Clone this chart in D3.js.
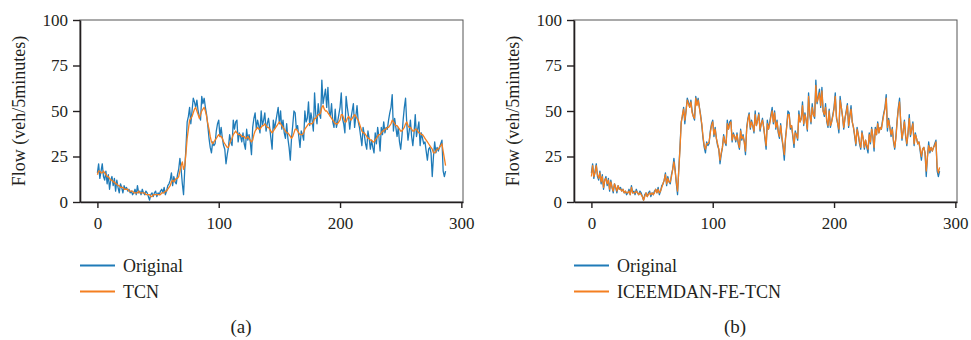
<!DOCTYPE html>
<html>
<head>
<meta charset="utf-8">
<script src="https://cdn.jsdelivr.net/npm/d3@7"></script>
<style>
  body { margin: 0; background: #fff; }
  svg { display: block; }
  text { font-family: "Liberation Serif", "DejaVu Serif", serif; fill: #231f20; }
</style>
</head>
<body>
<div id="chart"></div>
<script>
// flow observed, one value per 5 minutes (288 per day)
const original = [
  16, 21, 13, 17, 21, 14, 12, 17, 10, 15, 7, 12,
  14, 9, 13, 6, 12, 8, 5, 10, 8, 5, 9, 7,
  8, 6, 7, 5, 6, 4, 5, 7, 4, 9, 5, 6,
  4, 7, 5, 4, 6, 5, 3, 1, 4, 5, 3, 5,
  6, 3, 5, 4, 6, 7, 5, 8, 4, 6, 9, 10,
  12, 16, 9, 14, 11, 10, 15, 18, 24, 18, 10, 4,
  18, 30, 44, 47, 52, 43, 50, 57, 55, 52, 56, 50,
  47, 45, 58, 54, 57, 52, 48, 42, 35, 30, 27, 33,
  31, 32, 39, 43, 45, 36, 41, 35, 31, 29, 21, 26,
  30, 37, 33, 31, 45, 40, 44, 45, 33, 38, 36, 33,
  38, 32, 29, 40, 34, 37, 33, 26, 41, 46, 49, 40,
  45, 42, 38, 50, 42, 45, 49, 39, 43, 46, 41, 35,
  29, 45, 40, 44, 48, 52, 43, 50, 40, 45, 38, 35,
  43, 35, 30, 23, 35, 42, 50, 49, 40, 42, 36, 30,
  39, 37, 34, 50, 44, 46, 55, 42, 49, 45, 39, 60,
  48, 43, 54, 48, 46, 67, 54, 58, 62, 52, 63, 50,
  47, 54, 44, 41, 51, 41, 44, 48, 52, 60, 46, 43,
  38, 58, 52, 47, 40, 46, 50, 54, 41, 47, 53, 44,
  41, 36, 31, 41, 37, 32, 29, 39, 35, 29, 34, 30,
  27, 38, 32, 41, 36, 28, 41, 37, 44, 38, 41, 40,
  45, 49, 52, 59, 39, 46, 41, 36, 41, 33, 29, 36,
  45, 52, 57, 43, 34, 39, 45, 36, 31, 38, 48, 36,
  40, 44, 31, 38, 35, 32, 33, 28, 23, 29, 30, 27,
  14, 25, 33, 27, 30, 28, 30, 32, 34, 17, 14, 17
];

const tcn = [
  15, 17, 17, 16, 16, 17, 16, 15, 14, 14, 13, 12,
  12, 11, 11, 10, 10, 9, 9, 8, 8, 8, 7, 7,
  7, 7, 6, 6, 6, 6, 5, 5, 5, 5, 6, 5,
  5, 5, 5, 5, 4, 4, 4, 4, 3, 3, 4, 4,
  4, 4, 4, 4, 4, 5, 5, 5, 6, 6, 7, 8,
  9, 11, 12, 11, 12, 13, 13, 14, 17, 20, 22, 18,
  20, 27, 35, 40, 45, 46, 47, 49, 51, 52, 50, 48,
  46, 48, 50, 51, 52, 50, 47, 43, 40, 36, 33, 32,
  33, 34, 35, 36, 37, 36, 36, 35, 33, 32, 31, 30,
  30, 32, 34, 35, 37, 38, 39, 38, 37, 37, 37, 36,
  36, 36, 35, 35, 36, 35, 34, 33, 34, 37, 39, 40,
  41, 40, 40, 41, 42, 42, 43, 42, 41, 41, 40, 39,
  38, 39, 40, 41, 42, 43, 44, 43, 42, 41, 40, 39,
  38, 38, 37, 36, 35, 36, 38, 40, 40, 39, 38, 37,
  37, 37, 38, 40, 41, 42, 43, 43, 43, 43, 44, 46,
  46, 47, 48, 48, 49, 52, 53, 51, 50, 50, 49, 48,
  47, 46, 45, 44, 43, 43, 43, 44, 45, 48, 48, 46,
  44, 44, 46, 47, 46, 45, 46, 47, 48, 47, 46, 45,
  43, 41, 39, 38, 38, 37, 36, 35, 35, 34, 34, 33,
  33, 34, 35, 36, 37, 37, 38, 39, 39, 40, 40, 41,
  41, 42, 43, 45, 44, 43, 42, 42, 41, 40, 39, 39,
  40, 41, 43, 44, 42, 41, 41, 40, 39, 39, 40, 40,
  39, 38, 38, 37, 37, 36, 35, 34, 33, 32, 31, 30,
  29, 27, 27, 28, 29, 29, 30, 31, 32, 28, 24, 20
];

const iceemdan = [
  14, 20, 14, 16, 20, 15, 13, 16, 11, 14, 8, 12,
  13, 10, 12, 7, 11, 8, 6, 10, 8, 6, 9, 7,
  7, 6, 7, 5, 6, 5, 5, 6, 4, 8, 5, 5,
  5, 6, 5, 4, 5, 4, 3, 1, 3, 5, 3, 4,
  5, 4, 5, 4, 5, 7, 5, 7, 5, 6, 8, 10,
  12, 15, 10, 13, 11, 11, 14, 18, 22, 17, 11, 6,
  17, 29, 43, 48, 51, 45, 50, 56, 54, 52, 55, 49,
  47, 46, 57, 53, 56, 52, 47, 43, 36, 31, 29, 32,
  32, 33, 38, 42, 44, 37, 40, 35, 32, 29, 23, 27,
  30, 36, 33, 32, 43, 40, 43, 44, 34, 37, 36, 34,
  37, 33, 30, 39, 35, 36, 33, 28, 40, 45, 48, 41,
  44, 42, 39, 48, 42, 45, 48, 40, 43, 45, 41, 36,
  31, 43, 40, 43, 47, 50, 44, 49, 41, 44, 39, 36,
  42, 36, 31, 26, 35, 41, 48, 48, 41, 42, 37, 32,
  38, 37, 35, 48, 44, 46, 53, 43, 48, 45, 40, 58,
  48, 44, 52, 48, 47, 64, 55, 57, 60, 53, 61, 50,
  48, 52, 45, 42, 50, 42, 44, 47, 51, 58, 47, 43,
  40, 56, 52, 47, 41, 46, 49, 53, 42, 47, 51, 44,
  41, 37, 32, 40, 37, 33, 30, 38, 35, 30, 34, 31,
  29, 37, 33, 40, 36, 30, 40, 37, 43, 38, 41, 40,
  44, 48, 51, 57, 41, 45, 41, 37, 40, 34, 30, 35,
  44, 51, 55, 44, 35, 39, 44, 37, 32, 38, 46, 37,
  40, 43, 32, 37, 35, 32, 33, 29, 25, 29, 30, 27,
  17, 25, 31, 28, 30, 28, 30, 31, 33, 19, 16, 19
];

const yTicks = [0, 25, 50, 75, 100];
const xTicks = [0, 100, 200, 300];
const panels = [
  { left: 80, model: tcn, name: 'TCN', tag: '(a)' },
  { left: 574, model: iceemdan, name: 'ICEEMDAN-FE-TCN', tag: '(b)' }
];

const blue = '#1f7bb8';
const orange = '#f47f20';
const plotW = 383, plotTop = 20, plotBottom = 202;

const svg = d3.select('#chart').append('svg').attr('width', 971).attr('height', 340);

panels.forEach(p => {
  const x = d3.scaleLinear().domain([-14.35, 301.35]).range([p.left, p.left + plotW]);
  const y = d3.scaleLinear().domain([0, 100]).range([plotBottom, plotTop]);
  const g = svg.append('g');

  // frame (top / right)
  g.append('rect')
    .attr('x', p.left).attr('y', plotTop)
    .attr('width', plotW).attr('height', plotBottom - plotTop)
    .attr('fill', 'none').attr('stroke', '#555').attr('stroke-width', 1);

  const line = d3.line().x((d, i) => x(i)).y(d => y(d));
  g.append('path').datum(original)
    .attr('d', line).attr('fill', 'none')
    .attr('stroke', blue).attr('stroke-width', 1.3).attr('stroke-linejoin', 'round');
  g.append('path').datum(p.model)
    .attr('d', line).attr('fill', 'none')
    .attr('stroke', orange).attr('stroke-width', 1.3).attr('stroke-linejoin', 'round');

  const ya = g.append('g').attr('transform', `translate(${p.left},0)`)
    .call(d3.axisLeft(y).tickValues(yTicks).tickSize(7).tickSizeOuter(0).tickPadding(5));
  const xa = g.append('g').attr('transform', `translate(0,${plotBottom})`)
    .call(d3.axisBottom(x).tickValues(xTicks).tickSize(6).tickSizeOuter(0).tickPadding(9));
  [ya, xa].forEach(a => {
    a.select('.domain').attr('stroke', '#231f20').attr('stroke-width', 1.6);
    a.selectAll('.tick line').attr('stroke', '#231f20').attr('stroke-width', 1.4);
    a.selectAll('.tick text').attr('fill', '#231f20')
      .style('font-family', '"Liberation Serif", serif').style('font-size', '17px');
  });

  g.append('text')
    .attr('transform', `translate(${p.left - 61},${(plotTop + plotBottom) / 2}) rotate(-90)`)
    .attr('text-anchor', 'middle').attr('dy', '0.35em')
    .style('font-size', '18px')
    .text('Flow (veh/5minutes)');

  // legend
  const leg = [{ c: blue, t: 'Original' }, { c: orange, t: p.name }];
  leg.forEach((l, i) => {
    const ly = 265.5 + i * 26;
    g.append('line').attr('x1', p.left).attr('x2', p.left + 35)
      .attr('y1', ly).attr('y2', ly).attr('stroke', l.c).attr('stroke-width', 2);
    g.append('text').attr('x', p.left + 43).attr('y', ly).attr('dy', '0.35em')
      .style('font-size', '18px').text(l.t);
  });

  g.append('text').attr('x', p.left + 161).attr('y', 333)
    .attr('text-anchor', 'middle').style('font-size', '19px').text(p.tag);
});
</script>
</body>
</html>
